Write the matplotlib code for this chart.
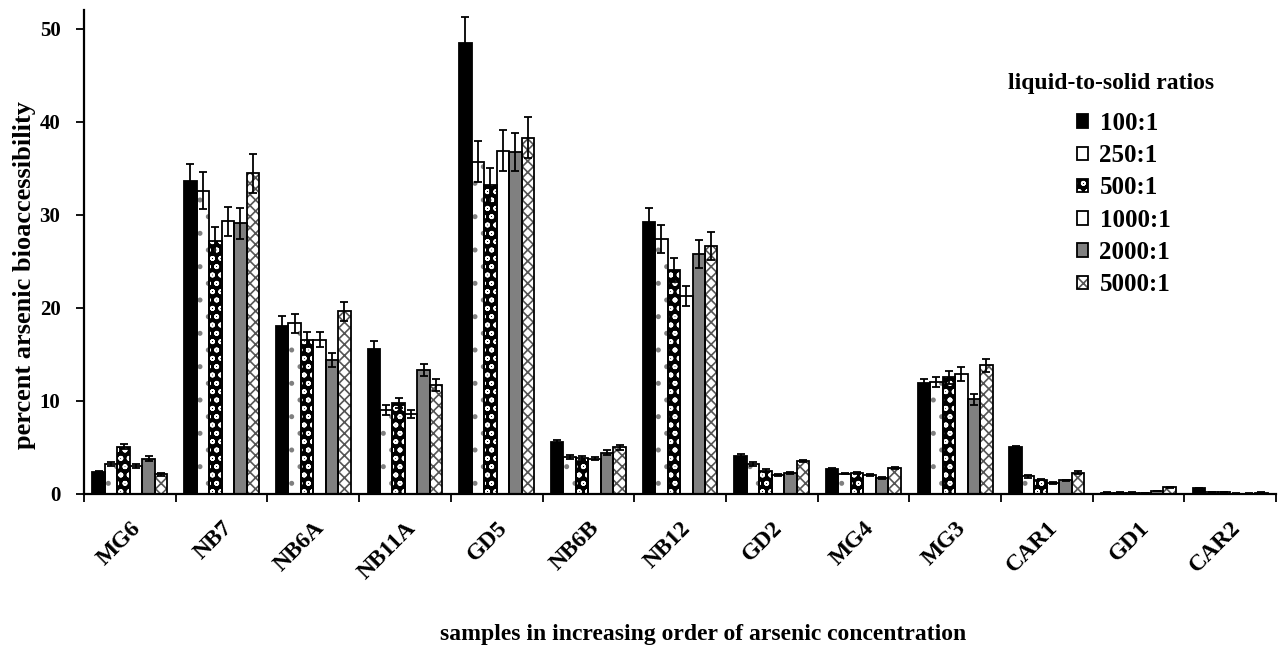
import numpy as np
import matplotlib
matplotlib.use("Agg")
import matplotlib.pyplot as plt
from matplotlib.patches import Patch
from matplotlib.legend_handler import HandlerTuple
from matplotlib.transforms import ScaledTranslation

samples = ["MG6", "NB7", "NB6A", "NB11A", "GD5", "NB6B", "NB12",
           "GD2", "MG4", "MG3", "CAR1", "GD1", "CAR2"]
ratios = ["100:1", "250:1", "500:1", "1000:1", "2000:1", "5000:1"]

v100 = [2.4, 33.6, 18.1, 15.6, 48.5, 5.6, 29.2, 4.1, 2.65, 11.9, 5.05, 0.15, 0.6]
v250 = [3.2, 32.6, 18.35, 9.0, 35.7, 3.95, 27.4, 3.2, 2.2, 12.0, 1.9, 0.15, 0.2]
v500 = [5.1, 27.2, 16.6, 9.8, 33.2, 3.85, 24.1, 2.5, 2.3, 12.55, 1.55, 0.15, 0.2]
v1000 = [3.0, 29.3, 16.6, 8.6, 36.9, 3.8, 21.3, 2.0, 2.05, 12.9, 1.15, 0.1, 0.05]
v2000 = [3.8, 29.1, 14.4, 13.3, 36.8, 4.45, 25.8, 2.25, 1.75, 10.2, 1.45, 0.3, 0.05]
v5000 = [2.1, 34.5, 19.65, 11.75, 38.3, 5.0, 26.7, 3.55, 2.8, 13.85, 2.3, 0.72, 0.15]

e100 = [0.1, 1.9, 1.0, 0.8, 2.8, 0.2, 1.6, 0.15, 0.1, 0.5, 0.15, 0.02, 0.05]
e250 = [0.2, 2.0, 1.0, 0.55, 2.2, 0.2, 1.5, 0.2, 0.1, 0.55, 0.15, 0.02, 0.03]
e500 = [0.3, 1.5, 0.85, 0.55, 1.9, 0.2, 1.3, 0.15, 0.1, 0.7, 0.1, 0.02, 0.03]
e1000 = [0.2, 1.6, 0.85, 0.47, 2.2, 0.2, 1.1, 0.1, 0.1, 0.7, 0.1, 0.02, 0.02]
e2000 = [0.25, 1.7, 0.8, 0.65, 2.05, 0.25, 1.55, 0.1, 0.1, 0.6, 0.1, 0.03, 0.02]
e5000 = [0.15, 2.1, 1.0, 0.65, 2.2, 0.25, 1.5, 0.15, 0.15, 0.7, 0.15, 0.05, 0.03]

values = [v100, v250, v500, v1000, v2000, v5000]
errors = [e100, e250, e500, e1000, e2000, e5000]

# style: (facecolor, hatch, hatchcolor)
styles = [
    ("black", None, None),
    ("white", ".", "#808080"),
    ("black", "oo", "white"),
    ("white", None, None),
    ("#808080", None, None),
    ("white", "xxx", "#555555"),
]

plt.rcParams['font.family'] = ['Liberation Serif', 'DejaVu Serif']
plt.rcParams['font.weight'] = 'bold'
plt.rcParams['hatch.linewidth'] = 1.2

fig = plt.figure(figsize=(12.79, 6.48), dpi=100)
ax = fig.add_axes([0.0657, 0.2377, 0.932, 0.7463])

x = np.arange(len(samples))
w = 0.136
handles = []
for i, (vals, errs) in enumerate(zip(values, errors)):
    fc, hatch, hc = styles[i]
    pos = x + (i - 2.5) * w
    if hatch:
        ax.bar(pos, vals, w, color=fc, edgecolor=hc, hatch=hatch, linewidth=0, zorder=2)
        h_fill = Patch(facecolor=fc, edgecolor=hc, hatch=hatch, linewidth=0)
    else:
        ax.bar(pos, vals, w, color=fc, linewidth=0, zorder=2)
        h_fill = Patch(facecolor=fc, linewidth=0)
    ax.bar(pos, vals, w, fill=False, edgecolor="black", linewidth=1.3, zorder=3)
    ax.errorbar(pos, vals, yerr=errs, fmt="none", ecolor="black", elinewidth=1.3,
                capsize=3.2, capthick=1.3, zorder=4)
    handles.append((h_fill, Patch(fill=False, edgecolor="black", linewidth=1.3)))

ax.set_xlim(-0.5, len(samples) - 0.5)
ax.set_ylim(0, 52)
ax.set_yticks([0, 10, 20, 30, 40, 50])
ax.set_xticks(x)
ax.set_xticklabels(samples, rotation=45, ha="right", va="top", rotation_mode="anchor",
                   fontsize=17, fontweight="bold")
shift = ScaledTranslation(-5 / 100, 0, fig.dpi_scale_trans)
for lab in ax.get_xticklabels():
    lab.set_transform(lab.get_transform() + shift)
ax.tick_params(axis="x", which="major", length=0, pad=17)
ax.set_xticks(np.arange(-0.5, len(samples), 1.0), minor=True)
ax.tick_params(axis="x", which="minor", length=6, width=1.3, direction="out")
ax.tick_params(axis="y", length=6, width=1.3, direction="out", labelsize=15, pad=11)
for lab in ax.get_yticklabels():
    lab.set_fontweight("bold")

for s in ["top", "right"]:
    ax.spines[s].set_visible(False)
for s in ["left", "bottom"]:
    ax.spines[s].set_linewidth(1.6)

ax.set_ylabel("percent arsenic bioaccessibility", fontsize=19, fontweight="bold")
ax.yaxis.set_label_coords(-0.0405, 0.453)
ax.set_xlabel("samples in increasing order of arsenic concentration", fontsize=17,
              fontweight="bold")
ax.xaxis.set_label_coords(0.519, -0.269)

fig.text(1008 / 1279, 1 - 84 / 648, "liquid-to-solid ratios", fontsize=17,
         fontweight="bold", ha="left", va="center")
leg = ax.legend(handles, ratios, loc="upper left",
                bbox_to_anchor=(1077 / 1279, 1 - 112 / 648),
                bbox_transform=fig.transFigure, frameon=False,
                handlelength=0.45, handleheight=0.45, labelspacing=0.37,
                handletextpad=0.45, borderpad=0, borderaxespad=0,
                handler_map={tuple: HandlerTuple(ndivide=1, pad=0)},
                prop={"weight": "bold", "size": 18})

fig.savefig("out.png", dpi=100)
